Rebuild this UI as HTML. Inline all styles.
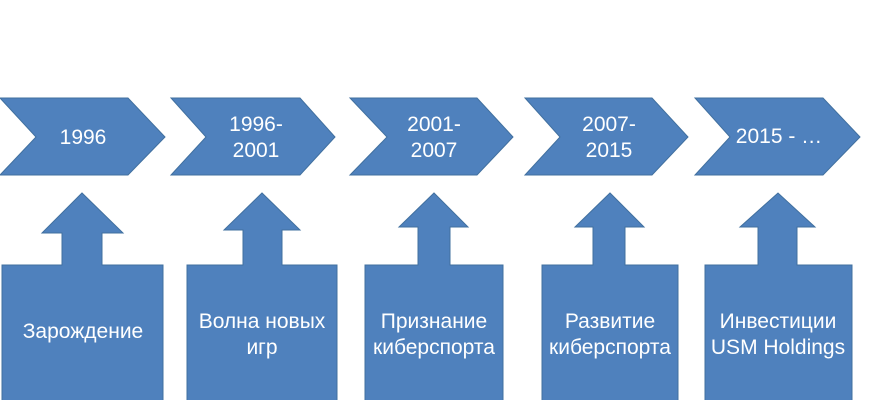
<!DOCTYPE html>
<html><head><meta charset="utf-8"><style>
html,body{margin:0;padding:0;background:#fff;width:870px;height:400px;overflow:hidden}
svg text{font-family:"Liberation Sans","DejaVu Sans",sans-serif;fill:#fff;font-size:21px;text-anchor:middle}
</style></head><body>
<svg width="870" height="400" xmlns="http://www.w3.org/2000/svg">
<g fill="#4f81bd" stroke="#41709f" stroke-width="1">
<polygon points="0,98 128,98 165,137 128,175 0,175 36,137"/>
<polygon points="171,98 300,98 335,137 300,175 171,175 206,137"/>
<polygon points="350,98 477,98 513,137 477,175 350,175 387,137"/>
<polygon points="525,98 652,98 688,137 652,175 525,175 560,137"/>
<polygon points="695,98 823,98 860,137 823,175 695,175 730,137"/>
<polygon points="2,265 62,265 62,233 42,233 82,193 123,233 102,233 102,265 163,265 163,401 2,401"/>
<polygon points="187,265 243,265 243,230 224,230 262,193 300,230 282,230 282,265 337,265 337,401 187,401"/>
<polygon points="365,265 418,265 418,227 399,227 434,193 468,227 450,227 450,265 503,265 503,401 365,401"/>
<polygon points="542,265 593,265 593,227 575,227 610,193 644,227 625,227 625,265 678,265 678,401 542,401"/>
<polygon points="705,265 758,265 758,227 740,227 778,193 815,227 797,227 797,265 852,265 852,401 705,401"/>
</g>
<text x="83" y="144">1996</text>
<text x="256" y="131">1996-</text><text x="256" y="157">2001</text>
<text x="434" y="131">2001-</text><text x="434" y="157">2007</text>
<text x="609" y="131">2007-</text><text x="609" y="157">2015</text>
<text x="779" y="143">2015 - …</text>
<text x="83" y="338" font-size="18.5">Зарождение</text>
<text x="262" y="328" font-size="18.5">Волна новых</text><text x="262" y="354" font-size="18.5">игр</text>
<text x="434" y="328" font-size="18.5">Признание</text><text x="434" y="354" font-size="18.5">киберспорта</text>
<text x="610" y="328" font-size="18.5">Развитие</text><text x="610" y="354" font-size="18.5">киберспорта</text>
<text x="778" y="328" font-size="18.5">Инвестиции</text><text x="778" y="354" font-size="18.5">USM Holdings</text>
</svg>
</body></html>
